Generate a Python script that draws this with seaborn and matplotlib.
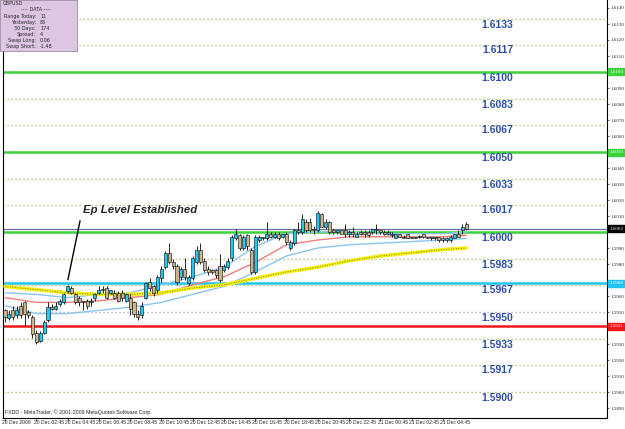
import numpy as np
import pandas as pd
import seaborn as sns
import matplotlib.pyplot as plt
import matplotlib.transforms as mtransforms

# GBPUSD M15 candles, values in pips (1.xxxx * 10000)
opens = [15951, 15946, 15951, 15948, 15954, 15956, 15950, 15947, 15937, 15932,
         15937, 15945, 15953, 15952, 15955, 15956, 15963, 15965, 15961, 15959,
         15957, 15957, 15956, 15959, 15962, 15964, 15965, 15962, 15962, 15962,
         15962, 15957, 15959, 15956, 15949, 15948, 15959, 15969, 15966, 15964,
         15971, 15978, 15987, 15981, 15979, 15972, 15977, 15968, 15971, 15981,
         15989, 15982, 15977, 15976, 15976, 15979, 15976, 15978, 15984, 15996,
         15998, 15990, 15998, 15989, 15975, 15995, 15997, 15996, 15999, 15997,
         15999, 15997, 15999, 15990, 15993, 16001, 16000, 16006, 16006, 16002,
         16001, 16011, 16003, 16006, 16001, 16000, 16001, 16001, 15999, 16000,
         15997, 16000, 16000, 16000, 16000, 16002, 16001, 16000, 15999, 15999,
         15996, 15999, 15996, 15999, 15997, 15996, 15997, 15999, 15997, 15996,
         15996, 15997, 15996, 15995, 15995, 15996, 15999, 16001, 16005]
highs = [15952, 15951, 15954, 15954, 15956, 15957, 15951, 15948, 15939, 15938,
         15945, 15956, 15955, 15956, 15958, 15962, 15967, 15966, 15962, 15960,
         15957, 15958, 15959, 15962, 15966, 15966, 15966, 15964, 15964, 15963,
         15964, 15962, 15961, 15957, 15951, 15956, 15969, 15971, 15967, 15973,
         15979, 15988, 15993, 15983, 15980, 15978, 15984, 15973, 15985, 15991,
         15993, 15984, 15979, 15977, 15977, 15986, 15980, 15984, 15998, 16002,
         15999, 15998, 15999, 15990, 15998, 15998, 15997, 16006, 16000, 16000,
         16000, 15999, 16000, 15995, 16002, 16006, 16011, 16008, 16009, 16004,
         16013, 16012, 16008, 16007, 16002, 16001, 16001, 16005, 16001, 16003,
         16000, 16001, 16001, 16001, 16002, 16005, 16001, 16001, 16001, 16000,
         15999, 15999, 15998, 15999, 15997, 15997, 15998, 15999, 15997, 15997,
         15997, 15997, 15997, 15997, 15998, 15999, 16001, 16005, 16006]
lows = [15944, 15945, 15945, 15946, 15946, 15941, 15946, 15934, 15930, 15931,
        15936, 15944, 15951, 15951, 15954, 15955, 15962, 15961, 15955, 15954,
        15951, 15952, 15954, 15957, 15961, 15962, 15958, 15961, 15958, 15956,
        15957, 15956, 15948, 15947, 15945, 15946, 15958, 15963, 15960, 15962,
        15969, 15977, 15980, 15977, 15967, 15970, 15970, 15967, 15970, 15980,
        15980, 15975, 15973, 15974, 15971, 15969, 15975, 15977, 15982, 15995,
        15989, 15989, 15989, 15974, 15974, 15994, 15995, 15995, 15996, 15996,
        15995, 15996, 15992, 15989, 15992, 15999, 15999, 16000, 16000, 15999,
        16000, 16003, 16002, 15999, 15999, 15999, 15999, 15997, 15997, 15997,
        15997, 15998, 15997, 15997, 15999, 15999, 15999, 15998, 15998, 15997,
        15996, 15997, 15996, 15996, 15996, 15996, 15996, 15996, 15996, 15995,
        15995, 15994, 15994, 15994, 15994, 15996, 15997, 15999, 16001]
closes = [15947, 15949, 15947, 15951, 15948, 15949, 15948, 15936, 15931, 15937,
          15944, 15953, 15952, 15954, 15957, 15961, 15966, 15962, 15956, 15956,
          15956, 15954, 15957, 15961, 15964, 15964, 15959, 15964, 15959, 15957,
          15959, 15961, 15952, 15949, 15947, 15954, 15968, 15965, 15962, 15972,
          15977, 15987, 15981, 15979, 15969, 15977, 15972, 15972, 15984, 15989,
          15981, 15976, 15975, 15975, 15973, 15970, 15979, 15982, 15997, 15999,
          15990, 15997, 15991, 15975, 15997, 15997, 15996, 15999, 15997, 15999,
          15996, 15999, 15994, 15994, 16001, 16000, 16008, 16001, 16001, 16001,
          16012, 16003, 16006, 16000, 16000, 16001, 15999, 15999, 16000, 15999,
          15999, 15999, 15999, 15998, 16002, 16001, 16000, 15999, 16000, 15998,
          15999, 15997, 15997, 15996, 15996, 15997, 15997, 15997, 15996, 15997,
          15997, 15995, 15995, 15996, 15997, 15999, 15997, 16003, 16002]

# moving averages read every 8 bars (pips)
ma_bars = [0, 8, 16, 24, 32, 40, 48, 56, 64, 72, 80, 88, 96, 104, 112, 118]
ma_yellow = [15966, 15964, 15962, 15961, 15961, 15962, 15965, 15967, 15971, 15975,
             15978, 15982, 15985, 15987, 15989, 15990]
ma_red = [15959, 15956, 15956, 15957, 15959, 15961, 15967, 15972, 15981, 15992,
          15995, 15997, 15997, 15997, 15997, 15998]
ma_blue_up = [15962, 15961, 15959, 15961, 15962, 15967, 15972, 15978, 15991, 15999,
              16000, 16000, 15999, 15999, 15999, 16000]
ma_blue_lo = [15954, 15949, 15949, 15951, 15953, 15956, 15961, 15966, 15975, 15985,
              15990, 15992, 15993, 15994, 15995, 15996]

# levels
green_levels = [1.6100, 1.6050, 1.6000]
blue_level = 1.5968
red_level = 1.5941
bid = 1.6002
third_labels = ['1.6133', '1.6117', '1.6100', '1.6083', '1.6067', '1.6050', '1.6033',
                '1.6017', '1.6000', '1.5983', '1.5967', '1.5950', '1.5933', '1.5917', '1.5900']
dotted_levels = [1.6133, 1.6117, 1.6083, 1.6067, 1.6033, 1.6017, 1.5983, 1.5967,
                 1.5933, 1.5917, 1.5900]
lavender_level = 1.5950

date_labels = ['20 Dec 2009', '20 Dec 02:45', '20 Dec 04:45', '20 Dec 06:45', '20 Dec 08:45',
               '20 Dec 10:45', '20 Dec 12:45', '20 Dec 14:45', '20 Dec 16:45', '20 Dec 18:45',
               '20 Dec 20:45', '20 Dec 22:45', '21 Dec 00:45', '21 Dec 02:45', '21 Dec 04:45']

info_keys = ['Range Today:', 'Yesterday:', '30 Days:', 'Spread:', 'Swap Long:', 'Swap Short:']
info_vals = ['11', '83', '174', '4', '0.06', '-1.48']

df = pd.DataFrame({'open': opens, 'high': highs, 'low': lows, 'close': closes}) / 10000.0
df['bar'] = np.arange(len(df))
ma = pd.DataFrame({'bar': ma_bars,
                   'yellow': np.array(ma_yellow) / 1e4,
                   'red': np.array(ma_red) / 1e4,
                   'blue_up': np.array(ma_blue_up) / 1e4,
                   'blue_lo': np.array(ma_blue_lo) / 1e4})

sns.set_style('white')
plt.rcParams['font.family'] = ['DejaVu Sans']

fig = plt.figure(figsize=(6.25, 4.29), dpi=100)
ax = fig.add_axes([3 / 625, 11 / 429, 604 / 625, 418 / 429])
ax.set_xlim(-0.51, 154)
ax.set_ylim(1.588375, 1.6145)

# fib-third dotted lines
for lv in dotted_levels:
    ax.axhline(lv, color='#9CBC58', lw=0.9, ls=(0, (1, 2.2)), zorder=1)
ax.axhline(lavender_level, color='#A49CDA', lw=0.9, ls=(0, (1, 2.2)), zorder=1)

# solid levels
for lv in green_levels:
    ax.axhline(lv, color='#3CD23C', lw=1.8, zorder=2)
ax.axhline(blue_level, color='#22C4F4', lw=1.8, zorder=2)
ax.axhline(red_level, color='#F01818', lw=1.8, zorder=2)
ax.axhline(bid, color='#6E6EA0', lw=0.9, zorder=2)

# moving averages
sns.lineplot(data=ma, x='bar', y='blue_lo', color='#8CC4F0', lw=1.0, ax=ax, zorder=3)
sns.lineplot(data=ma, x='bar', y='red', color='#F07C7C', lw=1.0, ax=ax, zorder=3)
sns.lineplot(data=ma, x='bar', y='blue_up', color='#8CC4F0', lw=1.0, ax=ax, zorder=3)
sns.lineplot(data=ma, x='bar', y='yellow', color='#F4F018', lw=2.6, ax=ax, zorder=3)
ax.plot(ma['bar'], ma['yellow'], color='#606010', lw=0.6, ls=(0, (1, 2)), zorder=3)

# candles
up = df['close'] >= df['open']
ax.vlines(df['bar'], df['low'], df['high'], color='black', lw=0.6, zorder=4)
body_h = (df['close'] - df['open']).abs().clip(lower=0.00003)
body_b = df[['open', 'close']].min(axis=1)
ax.bar(df['bar'][up], body_h[up], bottom=body_b[up], width=0.8,
       color='#22C8F0', edgecolor='black', lw=0.4, zorder=5)
ax.bar(df['bar'][~up], body_h[~up], bottom=body_b[~up], width=0.8,
       color='#C8B48E', edgecolor='black', lw=0.4, zorder=5)

# third labels in the chart
for s in third_labels:
    ax.text(126, float(s) - 0.00004, s, color='#2E4FA8', fontsize=7.5,
            fontweight='bold', family='Liberation Sans', ha='center', va='top', zorder=6)

# annotation
ax.text(34.6, 1.60135, 'Ep Level Established', fontsize=8.2, fontweight='bold',
        fontstyle='italic', family='Liberation Sans', ha='center', va='center', zorder=7)
ax.plot([19.2, 16.1], [1.60070, 1.59702], color='black', lw=1.0, zorder=7)

# price boxes on the right scale
box_levels = [1.6100, 1.6050, bid, blue_level, red_level]
box_texts = ['1.6100', '1.6050', '1.6002', '1.5968', '1.5941']
box_colors = ['#3CD23C', '#3CD23C', 'black', '#22C4F4', '#F01818']

# axes styling
ax.set_xlabel('')
ax.set_ylabel('')
ax.yaxis.tick_right()
ticks = np.round(np.arange(1.5890, 1.61405, 0.0010), 4)
ax.set_yticks(ticks)
tick_text = []
for t in ticks:
    hidden = any(abs(t - b) < 0.00025 for b in box_levels)
    tick_text.append('' if hidden else f'{t:.4f}')
ax.set_yticklabels(tick_text, fontsize=3.6, family='Liberation Serif')
ax.tick_params(axis='y', length=1.5, width=0.5, pad=0.8, right=True)
ax.set_xticks([8 * k for k in range(len(date_labels))])
ax.set_xticklabels([])
ax.tick_params(axis='x', length=2, width=0.5, bottom=True)
xtrans = mtransforms.blended_transform_factory(ax.transData, ax.transAxes)
for k, s in enumerate(date_labels):
    ax.text(8 * k - 0.7, -0.005, s, transform=xtrans,
            fontsize=3.6, family='Liberation Sans', ha='left', va='top', clip_on=False)
ax.spines['top'].set_visible(False)
for side in ['left', 'right', 'bottom']:
    ax.spines[side].set_color('black')
    ax.spines[side].set_linewidth(0.8)

trans = mtransforms.blended_transform_factory(ax.transAxes, ax.transData)
for lv, s, fc in zip(box_levels, box_texts, box_colors):
    ax.text(1.004, lv, s, transform=trans, fontsize=3.6, color='white', family='Liberation Serif',
            ha='left', va='center', clip_on=False, zorder=8,
            bbox=dict(boxstyle='square,pad=0.3', fc=fc, ec=fc))

ax.text(0.003, 0.006, 'FXDD - MetaTrader, \u00a9 2001-2009 MetaQuotes Software Corp.',
        transform=ax.transAxes, fontsize=3.8, family='Liberation Sans', ha='left', va='bottom')

# info panel
fig.patches.append(plt.Rectangle((0, 1 - 51 / 429), 77 / 625, 51 / 429, transform=fig.transFigure,
                                 fc='#DCC6E4', ec='#9A8AA4', lw=0.6, zorder=9))
fig.text(3 / 625, 1 - 3.5 / 429, 'GBPUSD', fontsize=3.5, va='center', ha='left', zorder=10)
fig.text(36 / 625, 1 - 9.8 / 429, '---- DATA ----', fontsize=3.5, va='center', ha='center', zorder=10)
for k, (a, b) in enumerate(zip(info_keys, info_vals)):
    yy = 1 - (16.2 + 6.1 * k) / 429
    fig.text(36 / 625, yy, a, fontsize=3.5, va='center', ha='right', zorder=10)
    fig.text(40 / 625, yy, b, fontsize=3.5, va='center', ha='left', zorder=10)

fig.savefig('out.png', dpi=100)
